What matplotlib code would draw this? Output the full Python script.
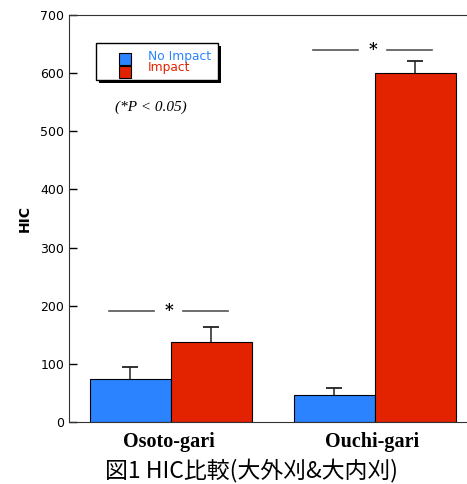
import matplotlib.pyplot as plt
import numpy as np
from matplotlib.patches import Rectangle

groups = ["Osoto-gari", "Ouchi-gari"]
no_impact = [74, 46]
no_impact_err = [21, 12]
impact = [138, 600]
impact_err = [25, 21]
sig_y = [191, 640]
series = ["No Impact", "Impact"]

blue = "#2b83ff"
red = "#e32200"

fig = plt.figure(figsize=(4.67, 4.84), dpi=100)
ax = fig.add_axes([0.1478, 0.128, 0.8522, 0.841])

x = np.arange(len(groups))
w = 0.397
for xs, vals, errs, col in [(x - w / 2, no_impact, no_impact_err, blue),
                            (x + w / 2, impact, impact_err, red)]:
    ax.bar(xs, vals, w, color=col, edgecolor="black", linewidth=0.8, zorder=2)
    tops = np.array(vals) + np.array(errs)
    ax.vlines(xs, vals, tops, color="#222222", lw=1.1, zorder=1)
    ax.plot(xs, tops, ls="none", marker="_", markersize=12, mew=1.3, color="#222222")

# significance marks
for xi, yi in zip(x, sig_y):
    ax.plot([xi - 0.3, xi - 0.08], [yi, yi], color="#555555", lw=1.2)
    ax.plot([xi + 0.06, xi + 0.28], [yi, yi], color="#555555", lw=1.2)
    ax.text(xi - 0.01, yi, "*", ha="center", va="center", fontsize=12,
            fontweight="bold", family="DejaVu Serif")

ax.set_xlim(-0.4975, 1.453)
ax.set_ylim(0, 700)
ax.set_yticks(range(0, 701, 100))
ax.tick_params(axis="y", direction="in", length=6, labelsize=9, width=1)
ax.set_xticks([])
for sp in ["left", "bottom", "top"]:
    ax.spines[sp].set_color("#333333")
ax.spines["right"].set_visible(False)
ax.set_ylabel("HIC", fontsize=10, fontweight="bold", labelpad=6)

for xi, g in zip(x, groups):
    ax.text(xi - 0.01, -0.05, g, transform=ax.get_xaxis_transform(), ha="center",
            va="center", fontsize=14.5, fontweight="bold", family="Liberation Serif")

# legend box with shadow
ax.add_patch(Rectangle((0.0755, 0.8326), 0.3065, 0.091, transform=ax.transAxes,
                       facecolor="black", edgecolor="none", zorder=4))
ax.add_patch(Rectangle((0.068, 0.840), 0.3065, 0.091, transform=ax.transAxes,
                       facecolor="white", edgecolor="black", lw=1, zorder=5))
for (yb, col, lab, yt) in [(0.8771, blue, series[0], 0.899), (0.8452, red, series[1], 0.870)]:
    ax.add_patch(Rectangle((0.1256, yb), 0.030, 0.0305, transform=ax.transAxes,
                           facecolor=col, edgecolor="black", lw=0.8, zorder=6))
    ax.text(0.1985, yt, lab, transform=ax.transAxes, color=col, fontsize=8.8,
            va="center", ha="left", zorder=6)

ax.text(0.115, 0.765, "(*P < 0.05)", transform=ax.transAxes, fontsize=11,
        style="italic", family="Liberation Serif")

fig.text(0.538, 0.028, "図1 HIC比較(大外刈&大内刈)", ha="center", va="center",
         fontsize=16.5, family=["Noto Sans CJK JP", "DejaVu Sans"])

fig.savefig("out.png", dpi=100)
